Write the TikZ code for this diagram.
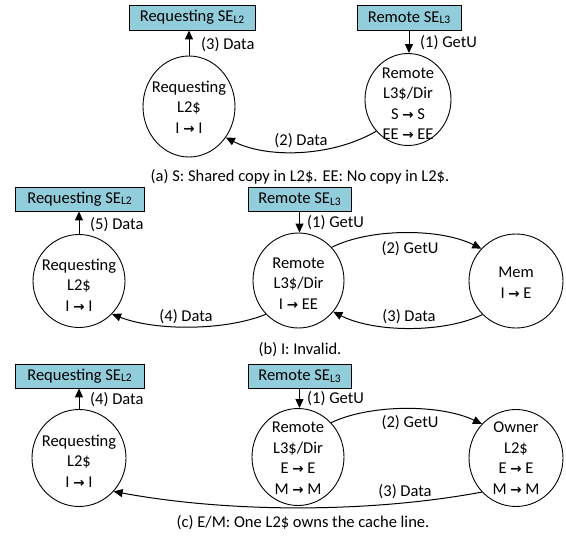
\documentclass[tikz,border=0pt]{standalone}
\usepackage{fontspec}
\setmainfont{Carlito}
\newfontfamily\arrfont{DejaVu Sans Bold}
\usetikzlibrary{arrows.meta,shapes.geometric}
\definecolor{seblue}{RGB}{146,205,220}
\newcommand{\ra}{{\arrfont\fontsize{13.5}{14}\selectfont →}}
\newcommand{\subL}[1]{\raisebox{-1.5pt}{\fontsize{11.5}{11.5}\selectfont #1}}
\begin{document}
\begin{tikzpicture}[x=1pt,y=-1pt, font=\fontsize{16.5}{20.5}\selectfont,
 sebox/.style={draw, fill=seblue, line width=0.9pt, minimum height=25pt, inner sep=0pt},
 st/.style={draw, ellipse, line width=0.9pt, inner sep=0pt},
 txt/.style={align=center, inner sep=0pt},
 ar/.style={-{Triangle[length=9pt,width=8pt]}, line width=1pt},
 lab/.style={inner sep=0pt, anchor=west},
 clab/.style={inner sep=0pt}]
\useasboundingbox (0,0) rectangle (566,541);
% ---------- (a)
\node[sebox, minimum width=126pt] (reqsea) at (192,17.5) {Requesting SE\subL{L2}};
\node[sebox, minimum width=104pt] (remsea) at (409,17.5) {Remote SE\subL{L3}};
\node[st, minimum width=92pt, minimum height=101pt] (reqa) at (189,106.5) {};
\node[txt] (reqat) at (189,107) {Requesting\\L2\$\\I \ra{} I};
\node[st, minimum width=86pt, minimum height=92pt] (rema) at (408,99.5) {};
\node[txt] (remat) at (408,103.5) {Remote\\L3\$/Dir\\S \ra{} S\\EE \ra{} EE};
\draw[ar] (reqa.north) -- (reqa.north |- reqsea.south);
\draw[ar] (remsea.south) -- (remsea.south |- rema.north);
\draw[ar] (rema.225) .. controls (330,158) and (265,158) .. (reqa.-40);
\node[lab] (l3a) at (201,45) {(3) Data};
\node[lab] (l1a) at (420,43) {(1) GetU};
\node[clab] (l2a) at (301,141) {(2) Data};
\node[clab] (capa) at (300,177) {(a) S: Shared copy in L2\$. EE: No copy in L2\$.};
% ---------- (b)
\node[sebox, minimum width=129pt, minimum height=24pt] (reqseb) at (79.5,199) {Requesting SE\subL{L2}};
\node[sebox, minimum width=103pt, minimum height=24pt] (remseb) at (299.5,199) {Remote SE\subL{L3}};
\node[st, minimum width=92pt, minimum height=93pt] (reqb) at (79,281) {};
\node[txt] (reqbt) at (79,285) {Requesting\\L2\$\\I \ra{} I};
\node[st, minimum width=91pt, minimum height=95pt] (remb) at (298.5,280.5) {};
\node[txt] (rembt) at (298.5,283.5) {Remote\\L3\$/Dir\\I \ra{} EE};
\node[st, minimum width=94pt, minimum height=94pt] (mem) at (516,281) {};
\node[txt] (memt) at (516,282.5) {Mem\\I \ra{} E};
\draw[ar] (reqb.north) -- (reqb.north |- reqseb.south);
\draw[ar] (remseb.south) -- (remseb.south |- remb.north);
\draw[ar] (remb.45) .. controls (370,228) and (440,228) .. (mem.137);
\draw[ar] (mem.-135) .. controls (445,333) and (375,333) .. (remb.-42);
\draw[ar] (remb.-134) .. controls (225,331) and (155,331) .. (reqb.-45);
\node[lab] (l5b) at (90,225) {(5) Data};
\node[lab] (l1b) at (307,223) {(1) GetU};
\node[clab] (l2b) at (410,249) {(2) GetU};
\node[clab] (l3b) at (409,317) {(3) Data};
\node[clab] (l4b) at (186,317) {(4) Data};
\node[clab] (capb) at (300,350) {(b) I: Invalid.};
% ---------- (c)
\node[sebox, minimum width=129pt, minimum height=24pt] (reqsec) at (79.5,376) {Requesting SE\subL{L2}};
\node[sebox, minimum width=103pt, minimum height=24pt] (remsec) at (299.5,376) {Remote SE\subL{L3}};
\node[st, minimum width=94pt, minimum height=97pt] (reqc) at (79,458) {};
\node[txt] (reqct) at (79,461) {Requesting\\L2\$\\I \ra{} I};
\node[st, minimum width=92pt, minimum height=97pt] (remc) at (298,457) {};
\node[txt] (remct) at (298,458) {Remote\\L3\$/Dir\\E \ra{} E\\M \ra{} M};
\node[st, minimum width=94pt, minimum height=97pt] (own) at (516,458) {};
\node[txt] (ownt) at (516,458) {Owner\\L2\$\\E \ra{} E\\M \ra{} M};
\draw[ar] (reqc.north) -- (reqc.north |- reqsec.south);
\draw[ar] (remsec.south) -- (remsec.south |- remc.north);
\draw[ar] (remc.46) .. controls (370,404) and (440,404) .. (own.135);
\draw[ar] (own.-135) .. controls (370,513) and (230,513) .. (reqc.-44);
\node[lab] (l4c) at (90,400) {(4) Data};
\node[lab] (l1c) at (307,399) {(1) GetU};
\node[clab] (l2c) at (410,423) {(2) GetU};
\node[clab] (l3c) at (405,492) {(3) Data};
\node[clab] (capc) at (303,523) {(c) E/M: One L2\$ owns the cache line.};
\end{tikzpicture}
\end{document}
